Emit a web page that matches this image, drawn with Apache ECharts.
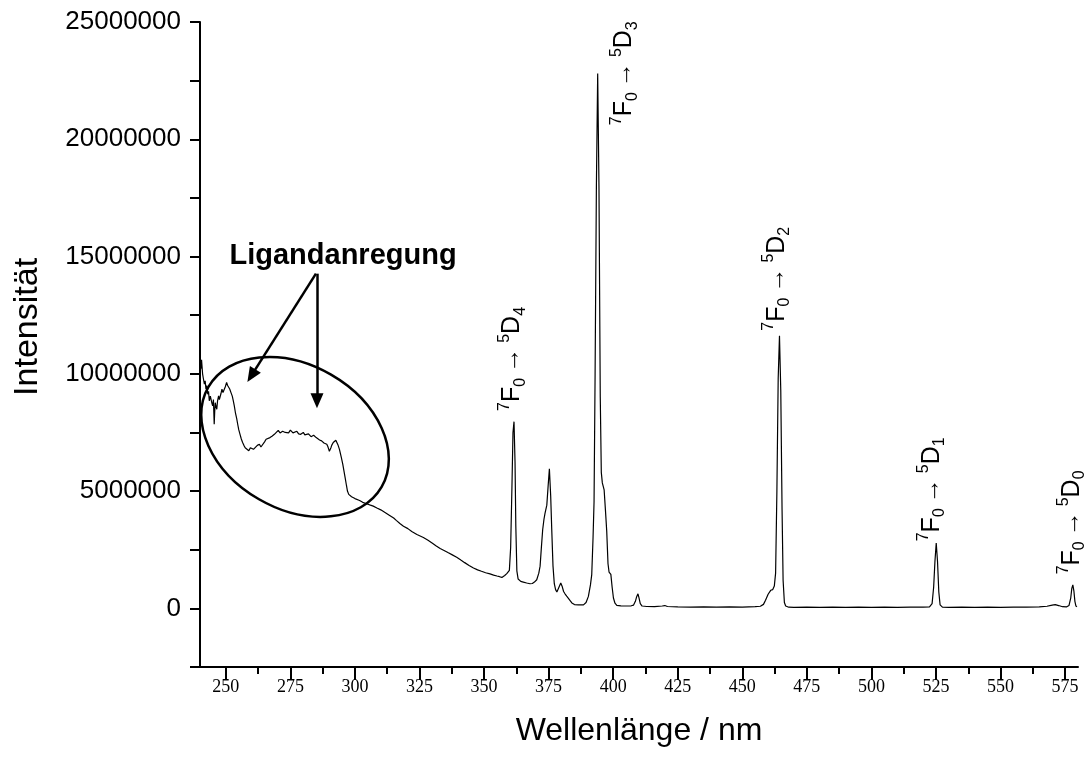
<!DOCTYPE html>
<html><head><meta charset="utf-8">
<script src="https://cdn.jsdelivr.net/npm/echarts@6/dist/echarts.min.js"></script>
<style>html,body{margin:0;padding:0;background:#fff}#c{width:1087px;height:758px}</style>
</head><body><div id="c"></div>
<script>
// ---- data (intensity in millions of counts) ----
const SCALE = 1e6;
const wavelength = [
240.0,240.3,240.6,241.0,241.3,241.7,242.0,242.3,242.6,243.0,243.3,243.6,244.0,244.3,244.6,244.9,245.2,245.5,245.7,245.9,
246.2,246.5,246.8,247.2,247.5,247.7,248.1,248.5,248.9,249.4,249.8,250.3,250.7,251.1,251.5,252.0,252.5,252.9,253.3,253.7,
254.2,254.6,255.0,255.5,256.0,256.5,257.0,257.5,258.2,258.9,259.5,260.1,260.7,261.4,262.2,263.0,263.6,264.3,265.0,265.6,
266.3,267.1,268.0,268.8,269.5,270.3,271.0,271.5,272.0,272.5,273.0,273.6,274.3,275.0,275.5,276.0,276.7,277.5,278.2,279.0,
279.5,280.0,280.6,281.3,282.0,282.5,283.0,283.5,284.0,284.5,285.0,285.5,286.3,287.1,287.6,288.0,288.6,289.1,289.5,289.8,
290.1,290.4,290.7,291.0,291.6,292.1,292.6,293.0,293.4,294.0,294.7,295.3,296.2,296.7,297.1,297.6,298.1,298.7,299.3,300.0,
300.7,301.8,303.0,304.0,305.0,306.0,307.1,308.5,310.0,311.8,313.6,315.0,316.0,317.4,318.8,320.5,322.0,324.0,326.5,328.3,
330.0,331.5,333.0,334.5,336.0,337.7,339.4,341.0,342.5,344.2,345.9,347.5,349.0,350.6,352.3,353.7,355.0,356.0,356.9,357.5,
358.0,358.8,359.8,360.3,360.8,361.2,361.6,362.0,362.3,362.7,363.2,364.2,365.2,366.5,367.8,368.7,369.5,370.4,371.2,371.7,
372.2,372.7,373.2,373.6,374.3,374.8,375.3,375.8,376.2,376.7,377.2,377.7,378.2,379.0,379.7,380.3,380.8,381.4,382.0,382.7,
383.4,384.0,385.0,386.5,388.5,389.5,390.4,391.2,391.7,392.2,392.6,393.0,393.5,394.0,394.5,395.0,395.4,395.8,396.5,397.0,
397.5,398.0,398.4,399.1,399.6,400.1,400.7,401.4,403.0,405.0,407.0,407.9,408.6,409.1,409.6,410.0,410.5,411.2,413.0,416.0,
419.0,420.0,421.0,425.0,430.0,435.0,440.0,445.0,450.0,455.0,457.0,458.2,459.0,460.0,461.0,461.8,462.4,462.9,463.4,463.9,
464.4,464.9,465.4,465.8,466.3,466.8,468.0,470.0,475.0,480.0,485.0,490.0,495.0,500.0,505.0,510.0,515.0,520.0,522.5,523.5,
524.1,524.6,525.1,525.6,526.1,526.6,527.5,530.0,535.0,540.0,545.0,550.0,555.0,560.0,565.0,568.0,570.0,571.2,572.5,574.0,
575.5,576.5,577.2,577.6,578.0,578.4,578.8,579.2,579.6
];
const intensity = [
11.2,10.2,10.6,10.0,9.8,9.56,9.7,9.35,9.5,9.13,9.25,8.85,9.05,8.99,8.75,8.63,8.9,7.85,8.4,8.77,
8.6,8.49,8.85,9.06,8.9,8.85,9.15,9.35,9.2,9.27,9.45,9.63,9.5,9.49,9.35,9.2,9.05,8.85,8.62,8.35,
8.1,7.85,7.62,7.42,7.22,7.07,6.95,6.85,6.80,6.72,6.85,6.92,6.78,6.82,6.95,7.0,6.88,6.92,7.1,7.21,
7.15,7.28,7.35,7.42,7.38,7.59,7.48,7.45,7.55,7.62,7.5,7.53,7.48,7.60,7.52,7.48,7.56,7.55,7.44,7.42,
7.5,7.50,7.40,7.35,7.44,7.40,7.32,7.30,7.38,7.36,7.28,7.22,7.18,7.14,7.1,7.05,7.02,7.0,6.9,6.80,
6.7,6.64,6.85,6.95,7.07,7.14,7.17,7.1,6.98,6.78,6.45,6.14,5.57,5.25,5.0,4.86,4.79,4.76,4.72,4.68,
4.64,4.6,4.52,4.48,4.44,4.40,4.36,4.28,4.20,4.08,3.95,3.85,3.75,3.62,3.50,3.40,3.28,3.15,3.02,2.9,
2.78,2.66,2.55,2.47,2.38,2.28,2.18,2.06,1.95,1.83,1.72,1.64,1.58,1.52,1.47,1.42,1.38,1.35,1.32,1.35,
1.40,1.48,1.62,2.6,5.2,7.5,7.96,6.2,3.5,1.6,1.25,1.15,1.12,1.08,1.05,1.06,1.12,1.22,1.50,1.80,
2.6,3.35,3.8,4.05,4.4,5.2,5.95,4.8,3.4,1.8,1.05,0.8,0.70,0.9,1.08,0.92,0.72,0.61,0.52,0.46,
0.32,0.23,0.16,0.15,0.15,0.25,0.51,1.0,1.44,3.0,4.57,10.0,18.0,22.8,18.0,9.0,5.8,5.35,5.05,4.2,
3.3,1.9,1.55,1.45,0.9,0.44,0.22,0.13,0.11,0.10,0.11,0.14,0.3,0.5,0.62,0.45,0.2,0.1,0.08,0.07,
0.1,0.12,0.08,0.06,0.05,0.06,0.05,0.06,0.05,0.07,0.09,0.17,0.35,0.6,0.77,0.8,0.95,1.5,5.0,9.8,
11.62,9.3,4.2,1.2,0.25,0.1,0.05,0.04,0.05,0.04,0.05,0.04,0.05,0.04,0.05,0.04,0.05,0.05,0.06,0.2,
0.9,2.0,2.79,2.0,0.7,0.15,0.05,0.04,0.05,0.04,0.05,0.04,0.05,0.05,0.06,0.09,0.14,0.16,0.12,0.07,
0.06,0.12,0.45,0.85,1.0,0.75,0.3,0.1,0.07
];
const xMajorTicks = [250,275,300,325,350,375,400,425,450,475,500,525,550,575];
const xMinorTicks = [262.5,287.5,312.5,337.5,362.5,387.5,412.5,437.5,462.5,487.5,512.5,537.5,562.5];
const yTickLabels = [0,5000000,10000000,15000000,20000000,25000000];
const peakSubscripts = ['4','3','2','1','0'];
const peakLabelNm = [361.0,404.4,463.3,523.4,577.6];
const peakLabelBase = [8.42,20.6,11.84,2.86,1.45];
const annotationText = 'Ligandanregung';
const yTitle = 'Intensität';
const xTitle = 'Wellenlänge / nm';
const arrows = [[[284.9,14.27],[259.9,9.92]],[[285.3,14.27],[285.3,8.85]]];
const ellipseCenter = [276.8,7.31];

const chart = echarts.init(document.getElementById('c'));
const data = wavelength.map((w,i)=>[w, intensity[i]*SCALE]);
const FONT = 'Liberation Sans';

chart.setOption({
  animation:false,
  backgroundColor:'#fff',
  textStyle:{fontFamily:FONT},
  grid:{left:200,right:9,top:22,bottom:91},
  xAxis:[{
    type:'value',min:240,max:580,position:'bottom',
    axisLine:{show:true,onZero:false,lineStyle:{color:'#000',width:2}},
    axisTick:{show:true,customValues:xMajorTicks,length:13,lineStyle:{color:'#000',width:2}},
    axisLabel:{show:true,customValues:xMajorTicks,margin:11,fontFamily:'Liberation Serif',fontSize:18,color:'#000'},
    splitLine:{show:false},
    name:xTitle,nameLocation:'middle',nameGap:48,
    nameTextStyle:{fontFamily:FONT,fontSize:32,color:'#000'}
  },{
    type:'value',min:240,max:580,position:'bottom',
    axisLine:{show:false,onZero:false},
    axisTick:{show:true,customValues:xMinorTicks,length:7,lineStyle:{color:'#000',width:2}},
    axisLabel:{show:false},splitLine:{show:false}
  }],
  yAxis:{
    type:'value',min:-2500000,max:25000000,interval:2500000,
    axisLine:{show:true,onZero:false,lineStyle:{color:'#000',width:2}},
    axisTick:{show:true,length:10,lineStyle:{color:'#000',width:2}},
    axisLabel:{margin:19,fontFamily:FONT,fontSize:26,color:'#000',
      formatter:v=>yTickLabels.includes(v)?String(v):''},
    splitLine:{show:false}
  },
  series:[{
    type:'line',data:data,xAxisIndex:0,yAxisIndex:0,
    showSymbol:false,symbol:'none',color:'#000',
    lineStyle:{color:'#000',width:1.2},silent:true,
    markLine:{
      silent:true,animation:false,
      symbol:['none','triangle'],symbolSize:[13,15],
      itemStyle:{color:'#000'},
      lineStyle:{color:'#000',width:2.5,type:'solid'},
      label:{show:false},emphasis:{disabled:true},
      data:arrows.map(a=>[{coord:[a[0][0],a[0][1]*SCALE]},{coord:[a[1][0],a[1][1]*SCALE]}])
    }
  }]
});

const toPx = (x,y)=>chart.convertToPixel({xAxisIndex:0,yAxisIndex:0},[x,y]);
const rich = {
  m:{fontSize:25,fontFamily:FONT,lineHeight:32,fill:'#000'},
  ar:{fontSize:25,fontFamily:FONT,lineHeight:32,fill:'#000'},
  sup:{fontSize:16,fontFamily:FONT,lineHeight:16,verticalAlign:'top',fill:'#000'},
  sub:{fontSize:16,fontFamily:FONT,lineHeight:16,verticalAlign:'bottom',fill:'#000'}
};
const graphics = [];
peakSubscripts.forEach((s,i)=>{
  const p = toPx(peakLabelNm[i], peakLabelBase[i]*SCALE);
  graphics.push({
    type:'text',x:p[0],y:p[1],rotation:Math.PI/2,silent:true,
    style:{text:'{sup|7}{m|F}{sub|0}{ar|\u2009\u2192\u2009}{sup|5}{m|D}{sub|'+s+'}',rich:rich,
      align:'left',verticalAlign:'middle',fill:'#000'}
  });
});
const lp = toPx(295.4, 15.04*SCALE);
graphics.push({type:'text',x:lp[0],y:lp[1],silent:true,
  style:{text:annotationText,fontFamily:FONT,fontWeight:'bold',fontSize:29,fill:'#000',align:'center',verticalAlign:'middle'}});
const ec = toPx(ellipseCenter[0], ellipseCenter[1]*SCALE);
graphics.push({type:'ellipse',x:ec[0],y:ec[1],rotation:-Math.PI/6,silent:true,
  shape:{cx:0,cy:0,rx:100,ry:72},style:{fill:'none',stroke:'#000',lineWidth:2.5}});
// y-axis title, placed beside the axis
const yt = toPx(240, 12.0*SCALE);
graphics.push({type:'text',x:28,y:yt[1],rotation:Math.PI/2,silent:true,
  style:{text:yTitle,fontFamily:FONT,fontSize:34,fill:'#000',align:'center',verticalAlign:'middle'}});
chart.setOption({graphic:graphics});
</script></body></html>
